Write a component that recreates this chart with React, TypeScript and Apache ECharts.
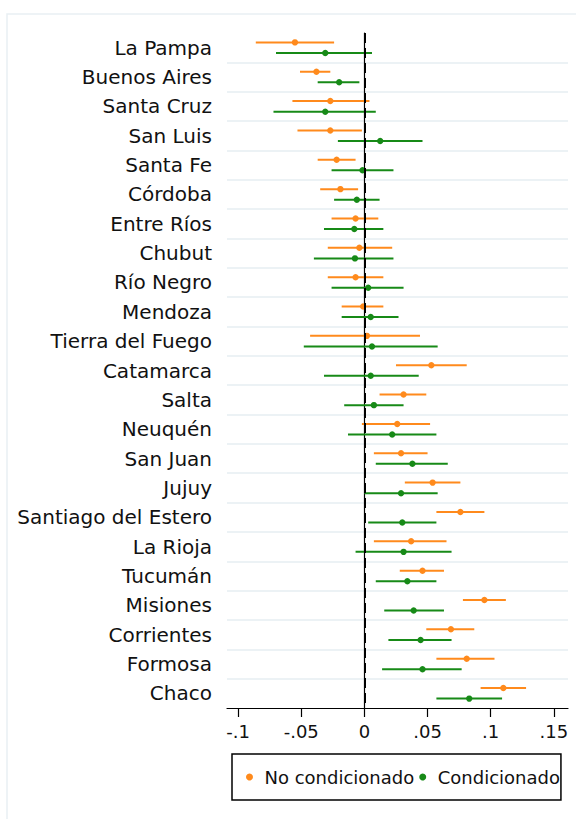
import React, { useEffect, useRef } from "react";
import * as echarts from "echarts";

const provinces = [
  "La Pampa", "Buenos Aires", "Santa Cruz", "San Luis", "Santa Fe", "Córdoba",
  "Entre Ríos", "Chubut", "Río Negro", "Mendoza", "Tierra del Fuego", "Catamarca",
  "Salta", "Neuquén", "San Juan", "Jujuy", "Santiago del Estero", "La Rioja",
  "Tucumán", "Misiones", "Corrientes", "Formosa", "Chaco",
];

// No condicionado
const ncEst = [-0.055, -0.038, -0.027, -0.027, -0.022, -0.019, -0.007, -0.004, -0.007, -0.001, 0.002, 0.053, 0.031, 0.026, 0.029, 0.054, 0.076, 0.037, 0.046, 0.095, 0.0685, 0.081, 0.11];
const ncLo = [-0.086, -0.051, -0.057, -0.053, -0.037, -0.035, -0.026, -0.029, -0.029, -0.018, -0.043, 0.025, 0.012, -0.002, 0.0075, 0.032, 0.057, 0.0075, 0.028, 0.078, 0.049, 0.057, 0.092];
const ncHi = [-0.024, -0.027, 0.004, -0.002, -0.007, -0.005, 0.011, 0.022, 0.015, 0.015, 0.044, 0.081, 0.049, 0.052, 0.05, 0.076, 0.095, 0.065, 0.063, 0.112, 0.087, 0.103, 0.128];

// Condicionado
const cEst = [-0.031, -0.02, -0.031, 0.0125, -0.0015, -0.006, -0.008, -0.0075, 0.003, 0.005, 0.006, 0.005, 0.0075, 0.022, 0.038, 0.029, 0.03, 0.031, 0.034, 0.039, 0.0445, 0.046, 0.083];
const cLo = [-0.07, -0.037, -0.072, -0.021, -0.026, -0.024, -0.032, -0.04, -0.026, -0.018, -0.048, -0.032, -0.016, -0.013, 0.009, 0.0, 0.003, -0.007, 0.009, 0.0157, 0.019, 0.014, 0.057];
const cHi = [0.006, -0.004, 0.009, 0.046, 0.023, 0.012, 0.015, 0.023, 0.031, 0.027, 0.058, 0.043, 0.031, 0.057, 0.066, 0.058, 0.057, 0.069, 0.057, 0.063, 0.069, 0.077, 0.109];

const xTicks = [-0.1, -0.05, 0, 0.05, 0.1, 0.15];
const xTickLabels = ["-.1", "-.05", "0", ".05", ".1", ".15"];

const ORANGE = "#ff8a1c";
const GREEN = "#178a17";
const FONT = "DejaVu Sans";

function makeRender(sign: number, color: string) {
  return (params: any, api: any) => {
    const i = api.value(0);
    const lo = api.value(1);
    const hi = api.value(2);
    const est = api.value(3);
    const band = api.size([0, 1])[1];
    const off = sign * band * 0.18;
    const a = api.coord([lo, i]);
    const b = api.coord([hi, i]);
    const e = api.coord([est, i]);
    return {
      type: "group",
      children: [
        {
          type: "line",
          shape: { x1: a[0], y1: a[1] + off, x2: b[0], y2: b[1] + off },
          style: { stroke: color, lineWidth: 2 },
        },
        {
          type: "circle",
          shape: { cx: e[0], cy: e[1] + off, r: 3.2 },
          style: { fill: color },
        },
      ],
    };
  };
}

export default function App() {
  const ref = useRef<HTMLDivElement>(null);
  useEffect(() => {
    if (!ref.current) return;
    const chart = echarts.init(ref.current, undefined, { renderer: "svg" });
    const ncData = provinces.map((_, i) => [i, ncLo[i], ncHi[i], ncEst[i]]);
    const cData = provinces.map((_, i) => [i, cLo[i], cHi[i], cEst[i]]);
    chart.setOption({
      animation: false,
      backgroundColor: "#ffffff",
      graphic: [
        {
          type: "rect",
          shape: { x: 7, y: 14, width: 600, height: 840 },
          style: { fill: "none", stroke: "#e9f0f3", lineWidth: 1.5 },
          silent: true,
          z: 0,
        },
      ],
      grid: { left: 227, right: 8, top: 33, bottom: 111 },
      xAxis: {
        type: "value",
        min: -0.1088,
        max: 0.1612,
        splitLine: { show: false },
        axisLine: { show: true, onZero: false, lineStyle: { color: "#000", width: 1.2 } },
        axisTick: { show: true, customValues: xTicks, length: 9, lineStyle: { color: "#000", width: 1.2 } },
        axisLabel: {
          customValues: xTicks,
          formatter: (v: number) => {
            const idx = xTicks.findIndex((t) => Math.abs(t - v) < 1e-9);
            return idx >= 0 ? xTickLabels[idx] : "";
          },
          fontFamily: FONT,
          fontSize: 18,
          color: "#111",
          margin: 14,
        },
      },
      yAxis: {
        type: "category",
        inverse: true,
        data: provinces,
        axisLine: { show: true, lineStyle: { color: "#000", width: 1.2 } },
        axisTick: { show: false },
        axisLabel: { fontFamily: FONT, fontSize: 20, color: "#111", margin: 15 },
        splitLine: {
          show: true,
          showMinLine: false,
          showMaxLine: false,
          lineStyle: { color: "#e6eef2", width: 1.5 },
        },
      },
      legend: {
        left: 232,
        top: 754,
        orient: "horizontal",
        itemWidth: 20,
        itemHeight: 7,
        itemGap: 5,
        padding: [14, 1, 14, 14],
        borderColor: "#000",
        borderWidth: 1.5,
        textStyle: { fontFamily: FONT, fontSize: 18, color: "#111" },
        data: [
          { name: "No condicionado", icon: "circle" },
          { name: "Condicionado", icon: "circle" },
        ],
      },
      series: [
        {
          name: "No condicionado",
          type: "custom",
          renderItem: makeRender(-1, ORANGE),
          itemStyle: { color: ORANGE },
          encode: { x: [1, 2, 3], y: 0 },
          data: ncData,
          z: 3,
          markLine: {
            silent: true,
            symbol: "none",
            label: { show: false },
            lineStyle: { color: "#000", type: [10, 5], width: 2 },
            data: [{ xAxis: 0 }],
          },
        },
        {
          name: "Condicionado",
          type: "custom",
          renderItem: makeRender(1, GREEN),
          itemStyle: { color: GREEN },
          encode: { x: [1, 2, 3], y: 0 },
          data: cData,
          z: 3,
        },
      ],
    });
    return () => chart.dispose();
  }, []);
  return (
    <div
      ref={ref}
      style={{ position: "fixed", left: 0, top: 0, width: 576, height: 819 }}
    />
  );
}
